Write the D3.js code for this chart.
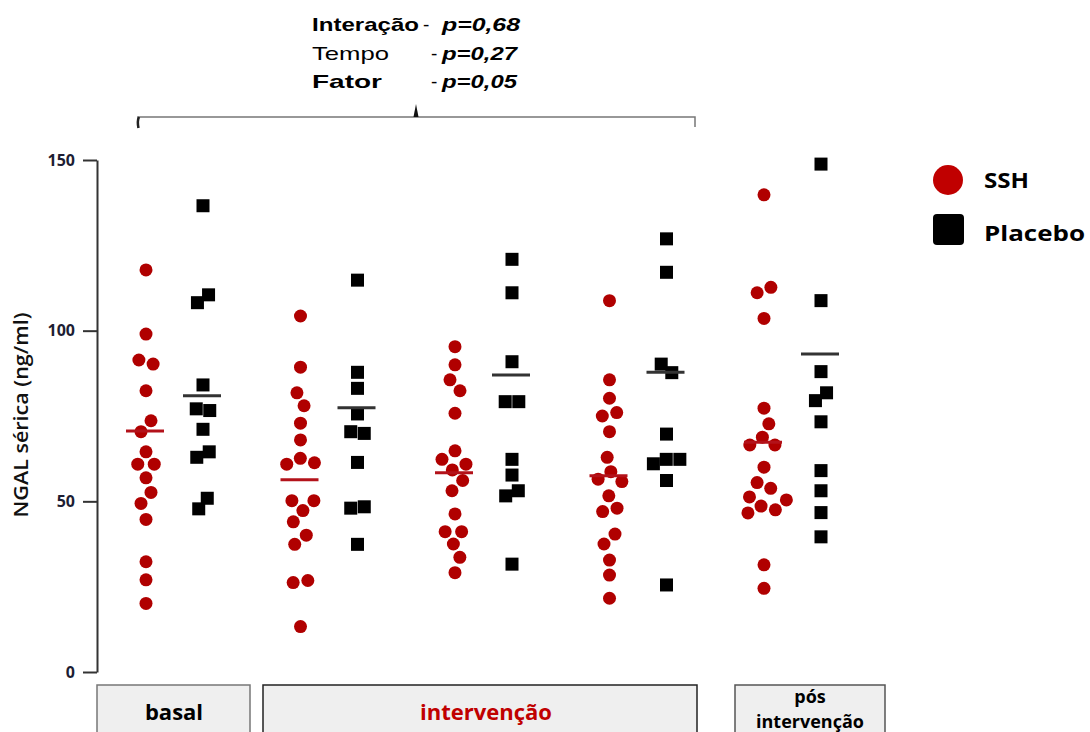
<!DOCTYPE html>
<html>
<head>
<meta charset="utf-8">
<script src="https://cdn.jsdelivr.net/npm/d3@7"></script>
<style>
  body { margin: 0; background: #fff; }
  svg { display: block; }
</style>
</head>
<body>
<div id="chart"></div>
<script>
// NGAL sérica - SSH vs Placebo, scatter by time point with group means

const timepoints = ['basal', 'int1', 'int2', 'int3', 'pos'];
const series = ['SSH', 'Placebo'];

// individual values (ng/ml)
const sshBasal = [117.8, 99.0, 91.4, 90.2, 82.4, 73.6, 70.4, 64.5, 60.9, 60.9, 56.9, 52.6, 49.4, 44.7, 32.3, 27.0, 20.1];
const sshInt1 = [104.3, 89.3, 81.8, 78.0, 72.9, 68.0, 62.6, 61.3, 60.9, 50.2, 50.2, 47.3, 44.0, 40.1, 37.4, 26.8, 26.2, 13.3];
const sshInt2 = [95.3, 90.0, 85.6, 82.4, 75.8, 64.8, 62.3, 60.9, 59.2, 56.1, 53.1, 46.3, 41.1, 41.1, 37.5, 33.6, 29.1];
const sshInt3 = [108.8, 85.6, 80.2, 76.0, 75.0, 70.4, 62.9, 58.7, 56.5, 55.8, 51.6, 48.0, 47.0, 40.4, 37.5, 32.8, 28.4, 21.6];
const sshPos = [139.8, 112.7, 111.1, 103.6, 77.3, 72.7, 68.8, 66.5, 66.5, 60.0, 55.5, 53.8, 51.3, 50.4, 48.6, 47.5, 46.6, 31.4, 24.5];

const placeboBasal = [136.6, 110.5, 108.2, 84.1, 77.1, 76.6, 71.1, 64.5, 62.9, 50.9, 47.8];
const placeboInt1 = [114.8, 87.8, 83.1, 75.6, 70.4, 69.9, 61.4, 48.4, 48.0, 37.4];
const placeboInt2 = [120.9, 111.1, 90.9, 79.2, 79.2, 62.3, 57.7, 53.1, 51.6, 31.6];
const placeboInt3 = [126.9, 117.1, 90.2, 87.7, 69.7, 62.3, 61.0, 62.3, 56.1, 25.5];
const placeboPos = [148.8, 108.8, 88.0, 81.8, 79.5, 73.3, 59.0, 53.1, 46.7, 39.6];

// horizontal mean bars
const sshMeans = [70.6, 56.3, 58.4, 57.5, 67.3];
const placeboMeans = [80.9, 77.4, 87.0, 87.8, 93.2];

const yTicks = [0, 50, 100, 150];

const statLabels = ['Interação', 'Tempo', 'Fator'];
const statP = ['p=0,68', 'p=0,27', 'p=0,05'];

const periodLabels = ['basal', 'intervenção', 'pós intervenção'];

const values = {
    SSH: [sshBasal, sshInt1, sshInt2, sshInt3, sshPos],
    Placebo: [placeboBasal, placeboInt1, placeboInt2, placeboInt3, placeboPos]
};
const means = { SSH: sshMeans, Placebo: placeboMeans };

const width = 1090;
const height = 732;
const red = '#b00000';

const svg = d3.select('#chart')
    .append('svg')
    .attr('width', width)
    .attr('height', height);

// scales
const y = d3.scaleLinear().domain([0, 150]).range([672, 160]);
const x = d3.scalePoint().domain(timepoints).range([174.5, 792.5]);
const xs = d3.scaleBand().domain(series).range([-57, 57]);
const colX = (t, s) => x(t) + xs(s) + xs.bandwidth() / 2;

// y axis
const yAxis = d3.axisLeft(y)
    .tickValues(yTicks)
    .tickSize(14)
    .tickSizeOuter(0)
    .tickPadding(8);

const gAxis = svg.append('g')
    .attr('transform', 'translate(97,0)')
    .call(yAxis);
gAxis.select('.domain').attr('stroke', '#333').attr('stroke-width', 2);
gAxis.selectAll('.tick line').attr('stroke', '#333').attr('stroke-width', 2);
gAxis.selectAll('.tick text')
    .attr('fill', '#1d1d33')
    .style('font-family', 'Open Sans, sans-serif')
    .style('font-weight', 'bold')
    .style('font-size', '16px');

svg.append('text')
    .attr('transform', 'translate(28,415) rotate(-90)')
    .attr('text-anchor', 'middle')
    .attr('textLength', 205)
    .attr('lengthAdjust', 'spacingAndGlyphs')
    .style('font-family', 'Open Sans, sans-serif')
    .style('font-weight', 600)
    .style('font-size', '20px')
    .attr('fill', '#111')
    .text('NGAL sérica (ng/ml)');

// points, spread sideways so they don't sit on top of each other
series.forEach(s => {
    timepoints.forEach((t, ti) => {
        const cx = colX(t, s);
        const nodes = values[s][ti].map((v, i) => ({
            v: v,
            x: cx + (i % 2 ? 0.6 : -0.6),
            y: y(v),
            fy: y(v)
        }));
        const sim = d3.forceSimulation(nodes)
            .force('x', d3.forceX(cx).strength(0.1))
            .force('collide', d3.forceCollide(s === 'SSH' ? 7.4 : 6.8).iterations(3))
            .stop();
        for (let k = 0; k < 300; k++) sim.tick();

        const g = svg.append('g').attr('class', 'pts-' + s);
        if (s === 'SSH') {
            g.selectAll('circle')
                .data(nodes)
                .enter()
                .append('circle')
                .attr('cx', d => d.x)
                .attr('cy', d => d.y)
                .attr('r', 6.5)
                .attr('fill', red);
        } else {
            g.selectAll('rect')
                .data(nodes)
                .enter()
                .append('rect')
                .attr('x', d => d.x - 6.5)
                .attr('y', d => d.y - 6.5)
                .attr('width', 13)
                .attr('height', 13)
                .attr('fill', '#000');
        }

        // mean bar
        svg.append('line')
            .attr('x1', cx - 20)
            .attr('x2', cx + 18)
            .attr('y1', y(means[s][ti]))
            .attr('y2', y(means[s][ti]))
            .attr('stroke', s === 'SSH' ? '#b3121a' : '#333')
            .attr('stroke-width', 3);
    });
});

// brace over basal + intervenção
svg.append('path')
    .attr('d', 'M138,128 L138,117 L695,117 L695,127')
    .attr('fill', 'none')
    .attr('stroke', '#777')
    .attr('stroke-width', 1.5);
svg.append('path')
    .attr('d', 'M138.5,128 Q137,121 139,117')
    .attr('fill', 'none')
    .attr('stroke', '#222')
    .attr('stroke-width', 2.5);
svg.append('path')
    .attr('d', 'M413.5,117 L416,104 L418.5,117 Z')
    .attr('fill', '#111');

// statistics text
const statRows = [31, 60, 88];
const statWidths = [107, 77, 70];
const dashX = [423, 431, 431];
statLabels.forEach((lab, i) => {
    svg.append('text')
        .attr('x', 312)
        .attr('y', statRows[i])
        .attr('textLength', statWidths[i])
        .attr('lengthAdjust', 'spacingAndGlyphs')
        .style('font-family', 'Liberation Sans, Arial, sans-serif')
        .style('font-weight', i === 1 ? 'normal' : 'bold')
        .style('font-size', '19px')
        .attr('fill', '#000')
        .text(lab);
    svg.append('text')
        .attr('x', dashX[i])
        .attr('y', statRows[i])
        .style('font-family', 'Liberation Sans, Arial, sans-serif')
        .style('font-size', '19px')
        .text('-');
    svg.append('text')
        .attr('x', 442)
        .attr('y', statRows[i])
        .attr('textLength', i === 0 ? 78 : 75)
        .attr('lengthAdjust', 'spacingAndGlyphs')
        .style('font-family', 'Liberation Sans, Arial, sans-serif')
        .style('font-weight', 'bold')
        .style('font-style', 'italic')
        .style('font-size', '19px')
        .text(statP[i]);
});

// legend
const legend = svg.append('g');
legend.append('circle')
    .attr('cx', 948).attr('cy', 180).attr('r', 15)
    .attr('fill', '#c00000');
legend.append('rect')
    .attr('x', 933).attr('y', 214).attr('width', 31).attr('height', 31)
    .attr('rx', 4)
    .attr('fill', '#000');
legend.selectAll('text.leg')
    .data(series)
    .enter()
    .append('text')
    .attr('class', 'leg')
    .attr('x', 984)
    .attr('y', (d, i) => 188 + i * 53)
    .attr('textLength', (d, i) => i === 0 ? 45 : 101)
    .attr('lengthAdjust', 'spacingAndGlyphs')
    .style('font-family', 'Open Sans, sans-serif')
    .style('font-weight', 'bold')
    .style('font-size', '22px')
    .attr('fill', '#000')
    .text(d => d);

// period boxes below the axis
const boxes = [
    { x0: 97, x1: 250, tx: 174, color: '#000', stroke: '#777', lines: [periodLabels[0]], size: 22, y0: 720 },
    { x0: 263, x1: 697, tx: 486, color: '#c00000', stroke: '#222', lines: [periodLabels[1]], size: 22, y0: 720 },
    { x0: 735, x1: 885, tx: 810, color: '#000', stroke: '#555', lines: periodLabels[2].split(' '), size: 18, y0: 703 }
];
boxes.forEach(b => {
    svg.append('rect')
        .attr('x', b.x0)
        .attr('y', 685)
        .attr('width', b.x1 - b.x0)
        .attr('height', 60)
        .attr('fill', '#efefef')
        .attr('stroke', b.stroke)
        .attr('stroke-width', 1.5);
    b.lines.forEach((ln, i) => {
        svg.append('text')
            .attr('x', b.tx)
            .attr('y', b.y0 + i * 25)
            .attr('text-anchor', 'middle')
            .style('font-family', 'Open Sans, sans-serif')
            .style('font-weight', 'bold')
            .style('font-size', b.size + 'px')
            .attr('fill', b.color)
            .text(ln);
    });
});
</script>
</body>
</html>
